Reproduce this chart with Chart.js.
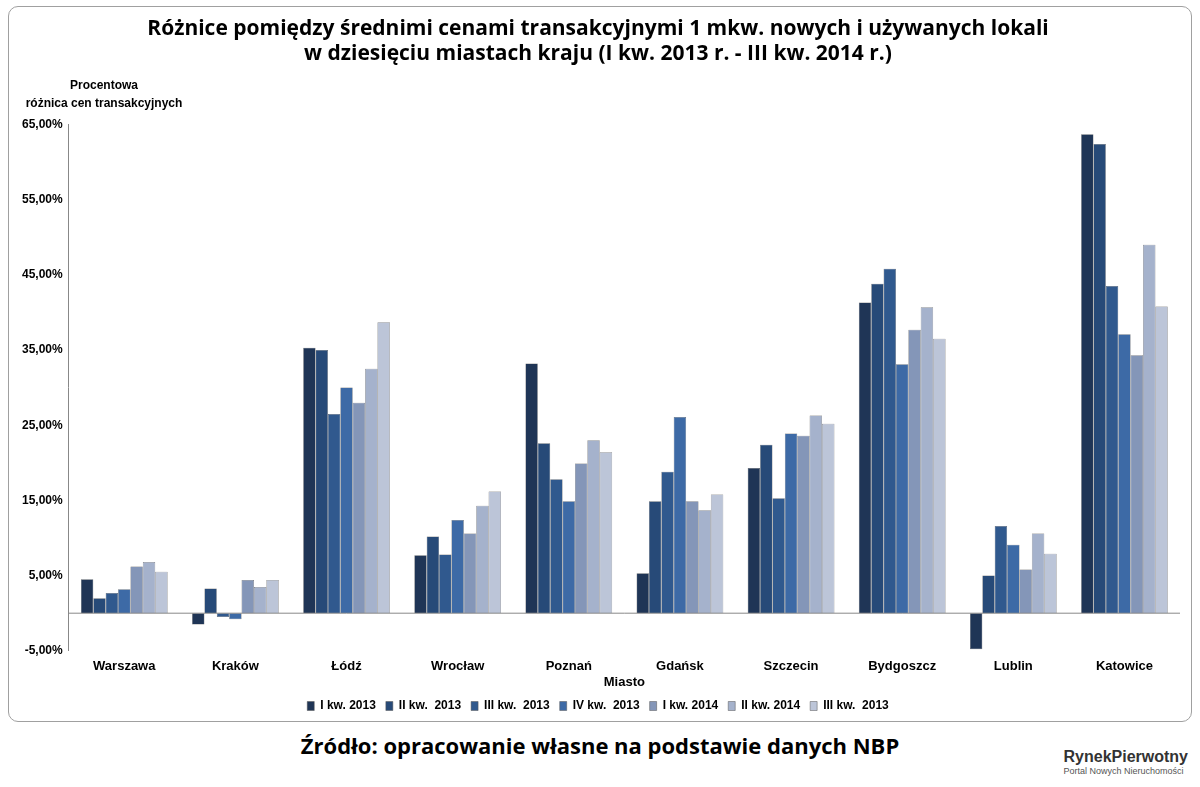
<!DOCTYPE html>
<html><head><meta charset="utf-8">
<script src="https://cdn.jsdelivr.net/npm/chart.js@4/dist/chart.umd.min.js"></script>
<style>
body{margin:0;width:1200px;height:787px;background:#fff;font-family:"Liberation Sans",Arial,sans-serif;position:relative;overflow:hidden}
#box{position:absolute;left:8px;top:6px;width:1184px;height:716px;border:1px solid #a0a0a0;border-radius:10px;box-sizing:border-box}
#wrap{position:absolute;left:8px;top:6px;width:1184px;height:716px}
#src{position:absolute;left:0;width:1200px;top:730px;text-align:center;font:bold 22px "Open Sans",sans-serif;color:#000}
#logo{position:absolute;right:12px;top:748px;text-align:left;font:bold 16px "Liberation Sans",sans-serif;color:#333}
#logo small{display:block;font:normal 9px "Liberation Sans";color:#555}
</style></head><body>
<div id="box"></div>
<div id="wrap"><canvas id="c"></canvas></div>
<div id="src">Źródło: opracowanie własne na podstawie danych NBP</div>
<div id="logo">RynekPierwotny<small>Portal Nowych Nieruchomości</small></div>
<script>
const categories=["Warszawa","Kraków","Łódź","Wrocław","Poznań","Gdańsk","Szczecin","Bydgoszcz","Lublin","Katowice"];
const seriesNames=["I kw. 2013","II kw.  2013","III kw.  2013","IV kw.  2013","I kw. 2014","II kw. 2014","III kw.  2013"];
const s1=[4.5,-1.5,35.3,7.7,33.2,5.3,19.3,41.3,-4.8,63.7];
const s2=[2.0,3.3,35.0,10.2,22.6,14.9,22.4,43.8,5.0,62.4];
const s3=[2.7,-0.5,26.5,7.8,17.8,18.8,15.3,45.8,11.6,43.5];
const s4=[3.2,-0.8,30.0,12.4,14.9,26.1,23.9,33.1,9.1,37.1];
const s5=[6.2,4.4,28.0,10.6,19.9,14.9,23.6,37.7,5.8,34.3];
const s6=[6.8,3.5,32.5,14.3,23.0,13.7,26.3,40.7,10.6,49.0];
const s7=[5.5,4.4,38.7,16.2,21.4,15.8,25.2,36.5,7.9,40.8];
const yTicks=[-5,5,15,25,35,45,55,65];
const colors=["#1f3556","#274a78","#30598e","#3d6aa6","#8496b8","#a5b2cc","#bcc5d8"];
const series=[s1,s2,s3,s4,s5,s6,s7];
const fmt=v=>v.toFixed(2).replace('.',',')+'%';
const yTitle={id:'yt',afterDraw(ch){const x=ch.ctx;x.save();x.font='bold 12px "Liberation Sans"';x.fillStyle='#000';x.textAlign='center';x.fillText('Procentowa',96,80);x.fillText('różnica cen transakcyjnych',96,98);x.restore();}};
new Chart(document.getElementById('c'),{type:'bar',
data:{labels:categories,datasets:series.map((d,i)=>({label:seriesNames[i],data:d,backgroundColor:colors[i],borderColor:'#555',borderWidth:0.5,categoryPercentage:0.78,barPercentage:1}))},
options:{responsive:true,maintainAspectRatio:false,animation:false,
layout:{padding:{left:8,right:12,top:4,bottom:0}},
plugins:{title:{display:true,text:['Różnice pomiędzy średnimi cenami transakcyjnymi 1 mkw. nowych i używanych lokali','w dziesięciu miastach kraju (I kw. 2013 r. - III kw. 2014 r.)'],font:{size:21,weight:'bold',family:'"Open Sans"'},color:'#000',padding:{top:6,bottom:58}},
legend:{position:'bottom',labels:{boxWidth:7,boxHeight:9,font:{size:12,weight:'bold',family:'"Liberation Sans"'},color:'#000',padding:10}},tooltip:{enabled:false}},
scales:{x:{grid:{display:false},border:{display:false},ticks:{padding:0,font:{size:13,weight:'bold',family:'"Liberation Sans"'},color:'#000'},title:{display:true,text:'Miasto',font:{size:13,weight:'bold'},color:'#000',padding:0}},
y:{min:-5,max:65,afterBuildTicks(a){a.ticks=yTicks.map(v=>({value:v}))},ticks:{padding:6,callback:v=>fmt(v),font:{size:12,weight:'bold',family:'"Liberation Sans"'},color:'#000'},
grid:{drawTicks:false,color:c=>c.tick&&c.tick.value===0?'#888':'rgba(0,0,0,0)'},border:{display:true,color:'#888'}}}},
plugins:[yTitle,{id:'zero',afterDatasetsDraw(ch){const y=ch.scales.y.getPixelForValue(0),x=ch.ctx;x.save();x.strokeStyle='#888';x.beginPath();x.moveTo(ch.chartArea.left,y);x.lineTo(ch.chartArea.right,y);x.stroke();x.restore();}}]});
</script></body></html>
